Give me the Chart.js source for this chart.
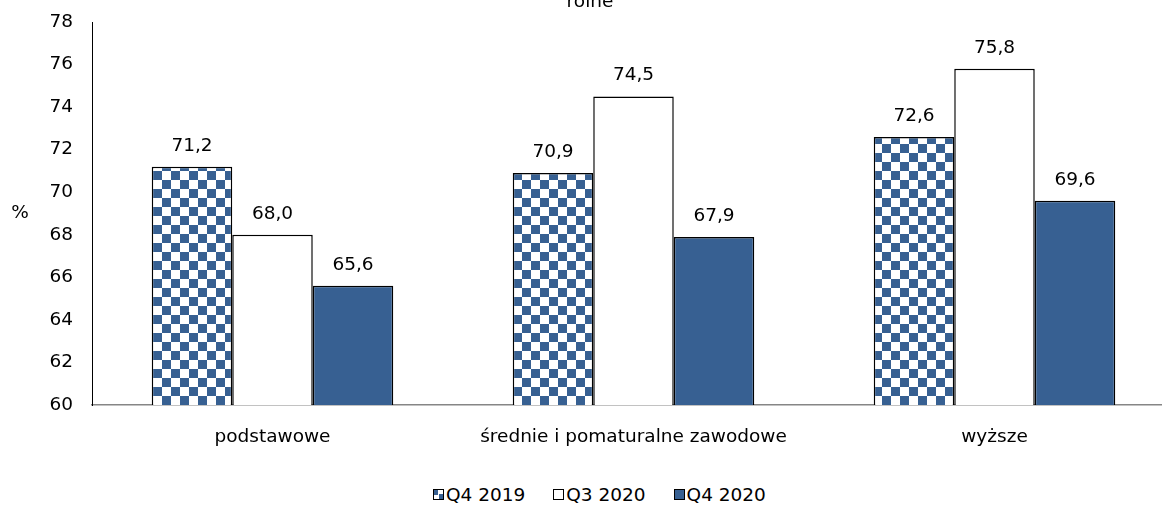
<!DOCTYPE html>
<html lang="pl">
<head>
<meta charset="utf-8">
<script src="https://cdn.jsdelivr.net/npm/chart.js@4/dist/chart.umd.min.js"></script>
<style>
    html, body { margin: 0; padding: 0; background: #fff; overflow: hidden; }
    #wrap { position: relative; width: 1162px; height: 507px; overflow: hidden; }
    #chart { position: absolute; left: 0; top: 0; }
    #legend {
        position: absolute; left: 433px; top: 484px;
        display: flex; align-items: center;
        font-family: "DejaVu Sans", sans-serif; font-size: 18.5px; color: #000;
        white-space: nowrap;
    }
    #legend .item { display: flex; align-items: center; margin-right: 28px; }
    #legend .box {
        width: 9px; height: 9px; border: 1px solid #000; margin-right: 2px;
        box-sizing: content-box;
    }
</style>
</head>
<body>
<div id="wrap">
    <canvas id="chart" width="1180" height="460"></canvas>
    <div id="legend"></div>
</div>
<script>
// dane z wykresu
const categories = ['podstawowe', 'średnie i pomaturalne zawodowe', 'wyższe'];
const seriesNames = ['Q4 2019', 'Q3 2020', 'Q4 2020'];
const q4_2019 = [71.2, 70.9, 72.6];
const q3_2020 = [68.0, 74.5, 75.8];
const q4_2020 = [65.6, 67.9, 69.6];
const yTicks = [60, 62, 64, 66, 68, 70, 72, 74, 76, 78];

const BLUE = '#376092';
const FONT = '"DejaVu Sans", sans-serif';
const FONT_SIZE = 18.5;

// szachownica dla Q4 2019
function makeChecker(cell) {
    const c = document.createElement('canvas');
    c.width = cell * 2;
    c.height = cell * 2;
    const g = c.getContext('2d');
    g.fillStyle = '#fff';
    g.fillRect(0, 0, c.width, c.height);
    g.fillStyle = BLUE;
    g.fillRect(0, 0, cell, cell);
    g.fillRect(cell, cell, cell, cell);
    return c;
}

const ctx = document.getElementById('chart').getContext('2d');
const checker = ctx.createPattern(makeChecker(9), 'repeat');

// etykiety wartości nad słupkami
const valueLabels = {
    id: 'valueLabels',
    afterDatasetsDraw(chart) {
        const c = chart.ctx;
        c.save();
        c.font = FONT_SIZE + 'px ' + FONT;
        c.fillStyle = '#000';
        c.textAlign = 'center';
        c.textBaseline = 'alphabetic';
        chart.data.datasets.forEach((ds, i) => {
            chart.getDatasetMeta(i).data.forEach((bar, j) => {
                const txt = ds.data[j].toFixed(1).replace('.', ',');
                c.fillText(txt, bar.x, bar.y - 16);
            });
        });
        c.restore();
    }
};

// "%" i ucięty tytuł u góry
const extraText = {
    id: 'extraText',
    afterDraw(chart) {
        const c = chart.ctx;
        const a = chart.chartArea;
        c.save();
        c.font = FONT_SIZE + 'px ' + FONT;
        c.fillStyle = '#000';
        c.textAlign = 'center';
        c.textBaseline = 'middle';
        c.fillText('%', 20, (a.top + a.bottom) / 2);
        c.textBaseline = 'alphabetic';
        c.fillText('rolne', 590, 7);
        c.restore();
    }
};

new Chart(ctx, {
    type: 'bar',
    data: {
        labels: categories,
        datasets: [
            { label: seriesNames[0], data: q4_2019, backgroundColor: checker, borderColor: '#000', borderWidth: 1.5 },
            { label: seriesNames[1], data: q3_2020, backgroundColor: '#fff', borderColor: '#000', borderWidth: 1.5 },
            { label: seriesNames[2], data: q4_2020, backgroundColor: BLUE, borderColor: '#000', borderWidth: 1.5 }
        ]
    },
    options: {
        responsive: false,
        animation: false,
        layout: { padding: { top: 22, right: 5, left: 0, bottom: 0 } },
        datasets: {
            bar: { barPercentage: 1, categoryPercentage: 0.669, borderSkipped: 'bottom' }
        },
        plugins: {
            legend: { display: false },
            title: { display: false },
            tooltip: { enabled: false }
        },
        scales: {
            x: {
                grid: { display: false, drawTicks: false },
                border: { display: true, color: '#868686', width: 1.5 },
                ticks: {
                    color: '#000',
                    font: { family: FONT, size: FONT_SIZE },
                    padding: 21,
                    maxRotation: 0
                },
                afterFit(scale) {
                    scale.height = 55;
                    scale.paddingLeft = 0;
                    scale.paddingRight = 0;
                }
            },
            y: {
                min: 60,
                max: 78,
                afterBuildTicks(scale) { scale.ticks = yTicks.map(v => ({ value: v })); },
                grid: { display: false, drawTicks: false },
                border: { display: true, color: '#000', width: 1 },
                ticks: {
                    color: '#000',
                    font: { family: FONT, size: FONT_SIZE },
                    padding: 19,
                    callback: v => v
                },
                afterFit(scale) {
                    scale.width = 92;
                    scale.paddingTop = 0;
                    scale.paddingBottom = 0;
                }
            }
        }
    },
    plugins: [valueLabels, extraText]
});

// legenda w HTML
const legend = document.getElementById('legend');
const boxStyles = [
    'background: conic-gradient(#fff 0 25%, ' + BLUE + ' 0 50%, #fff 0 75%, ' + BLUE + ' 0) 0 0 / 9px 9px',
    'background: #fff',
    'background: ' + BLUE
];
seriesNames.forEach((name, i) => {
    const item = document.createElement('span');
    item.className = 'item';
    const box = document.createElement('span');
    box.className = 'box';
    box.style.cssText = boxStyles[i];
    const txt = document.createElement('span');
    txt.textContent = name;
    item.appendChild(box);
    item.appendChild(txt);
    legend.appendChild(item);
});
</script>
</body>
</html>
